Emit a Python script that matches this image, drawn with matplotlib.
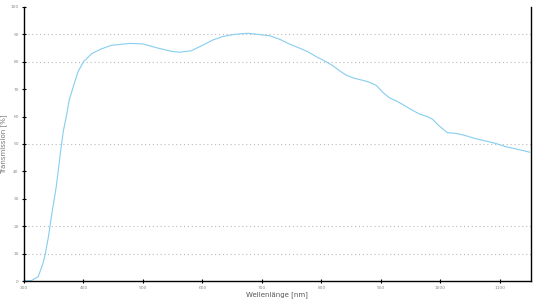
import matplotlib
matplotlib.use('Agg')
import matplotlib.pyplot as plt

# wavelength [nm] and transmission [%]
wavelength = [300, 313, 324, 332, 336, 341, 345, 349, 354, 358, 362, 366, 372, 376, 383, 391,
              400, 414, 430, 447, 478, 500, 525, 548, 562, 581, 598, 618, 634, 654, 676, 693,
              713, 730, 746, 763, 777, 791, 808, 819, 830, 841, 855, 872, 881, 892, 903, 914,
              925, 936, 950, 964, 978, 987, 995, 1004, 1012, 1026, 1040, 1060, 1076, 1093,
              1110, 1127, 1143, 1150]
transmission = [0, 0.2, 1.6, 6.5, 10, 16, 22, 27.5, 34, 41, 48, 54.5, 61, 66, 71, 76.4,
                80, 83, 84.7, 86, 86.7, 86.5, 85, 83.8, 83.5, 84, 85.8, 88, 89.2, 90, 90.4, 90,
                89.5, 88.2, 86.5, 85, 83.7, 81.9, 80, 78.6, 76.8, 75.2, 74, 73.1, 72.5, 71.4, 68.9, 66.9,
                65.8, 64.5, 62.7, 61, 60, 59, 57.2, 55.5, 54.1, 53.9, 53.2, 51.9, 51.1, 50.2,
                49, 48.2, 47.4, 47]

x_ticks = [300, 400, 500, 600, 700, 800, 900, 1000, 1100]
y_ticks = [0, 10, 20, 30, 40, 50, 60, 70, 80, 90, 100]
grid_levels = [10, 20, 50, 80, 90]

fig = plt.figure(figsize=(5.4, 3.03), dpi=100)
ax = fig.add_axes([0.0444, 0.0726, 0.9386, 0.9044])

for g in grid_levels:
    ax.axhline(g, color='#bbbbbb', linestyle=(0, (1, 2.5)), linewidth=0.8, zorder=0)

ax.plot(wavelength, transmission, color='#86cdef', linewidth=0.8)

ax.set_xlim(300, 1152)
ax.set_ylim(0, 100)
ax.set_xticks(x_ticks)
ax.set_yticks(y_ticks)
ax.tick_params(direction='inout', length=3.5, width=0.8, labelsize=3.2,
               labelcolor='#888888', pad=2)

ax.spines['top'].set_visible(False)
for s in ['left', 'bottom', 'right']:
    ax.spines[s].set_linewidth(1.0)

ax.set_xlabel('Wellenlänge [nm]', fontsize=5, color='#555555', labelpad=1)
ax.set_ylabel('Transmission [%]', fontsize=5, color='#777777')
ax.yaxis.set_label_coords(-0.034, 0.5)

fig.savefig('out.png', dpi=100)
